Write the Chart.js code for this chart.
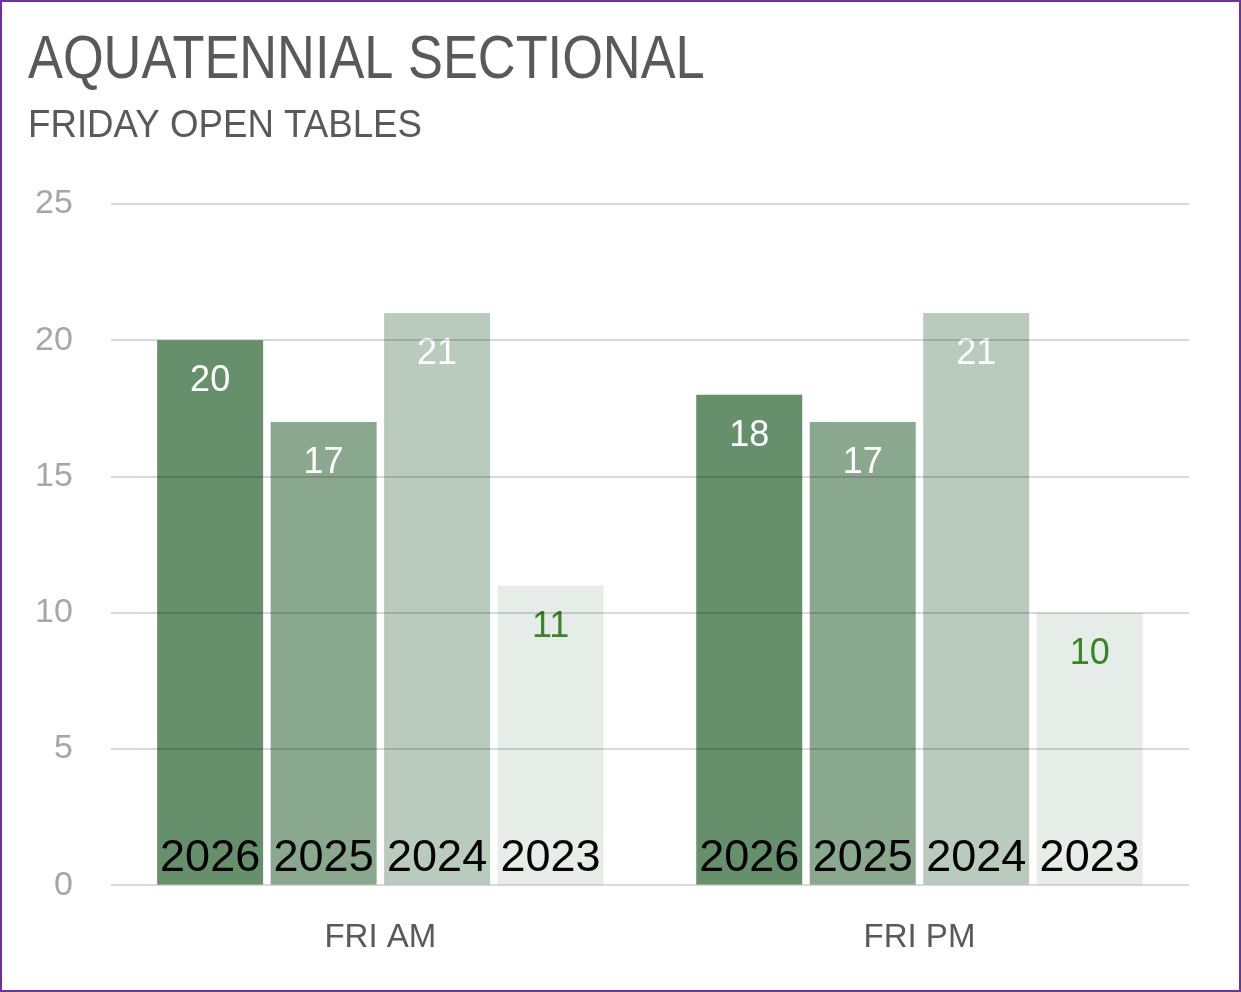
<!DOCTYPE html>
<html>
<head>
<meta charset="utf-8">
<script src="https://cdn.jsdelivr.net/npm/chart.js@4/dist/chart.umd.min.js"></script>
<style>
  html, body { margin: 0; padding: 0; background: #fff; }
  #wrap { width: 1241px; height: 992px; box-sizing: border-box; border: 2px solid #7030a0; background: #fff; }
  #wrap canvas { display: block; }
</style>
</head>
<body>
<div id="wrap"><canvas id="chart" width="1237" height="988"></canvas></div>
<script>
  const categories = ["FRI AM", "FRI PM"];
  const years = ["2026", "2025", "2024", "2023"];
  const values2026 = [20, 18];
  const values2025 = [17, 17];
  const values2024 = [21, 21];
  const values2023 = [11, 10];
  const yTicks = [0, 5, 10, 15, 20, 25];

  const titleText = 'AQUATENNIAL SECTIONAL';
  const subtitleText = 'FRIDAY OPEN TABLES';

  const barColors = ["#668f6b", "#8aa88d", "#b8cbbc", "#e6ece8"];
  const valueColors = ["#ffffff", "#ffffff", "#ffffff", "#3a8528"];
  const series = [values2026, values2025, values2024, values2023];

  // no narrow font installed, so squeeze the heading a bit by hand
  const headings = {
    id: 'headings',
    afterDraw(chart) {
      const ctx = chart.ctx;
      ctx.save();
      ctx.fillStyle = '#595959';
      ctx.textAlign = 'left';
      ctx.textBaseline = 'alphabetic';

      ctx.save();
      ctx.translate(26, 76);
      ctx.scale(0.858, 1);
      ctx.font = '61px "Liberation Sans", Arial, sans-serif';
      ctx.fillText(titleText, 0, 0);
      ctx.restore();

      ctx.save();
      ctx.translate(26, 135);
      ctx.scale(0.965, 1);
      ctx.font = '38px "Liberation Sans", Arial, sans-serif';
      ctx.fillText(subtitleText, 0, 0);
      ctx.restore();

      ctx.restore();
    }
  };

  // draws the value at the top and the year at the foot of each bar
  const barLabels = {
    id: 'barLabels',
    afterDatasetsDraw(chart) {
      const ctx = chart.ctx;
      ctx.save();
      ctx.textAlign = 'center';
      chart.data.datasets.forEach((ds, i) => {
        const meta = chart.getDatasetMeta(i);
        meta.data.forEach((bar, j) => {
          ctx.font = '36px "Liberation Sans", Arial, sans-serif';
          ctx.fillStyle = valueColors[i];
          ctx.textBaseline = 'middle';
          ctx.fillText(String(ds.data[j]), bar.x, bar.y + 41);

          ctx.font = '45px "Liberation Sans", Arial, sans-serif';
          ctx.fillStyle = '#000000';
          ctx.textBaseline = 'alphabetic';
          ctx.fillText(ds.label, bar.x, bar.base - 13);
        });
      });
      ctx.restore();
    }
  };

  const ctx = document.getElementById('chart').getContext('2d');

  const myChart = new Chart(ctx, {
    type: 'bar',
    data: {
      labels: categories,
      datasets: years.map((y, i) => ({
        label: y,
        data: series[i],
        backgroundColor: barColors[i],
        borderWidth: 0,
        categoryPercentage: 0.842,
        barPercentage: 0.934
      }))
    },
    options: {
      responsive: false,
      animation: false,
      layout: {
        padding: { left: -5, right: 50, top: 202, bottom: 7 }
      },
      plugins: {
        legend: { display: false },
        tooltip: { enabled: false },
        title: { display: false }
      },
      scales: {
        x: {
          grid: { display: false },
          border: { display: false },
          ticks: {
            color: '#595959',
            font: { family: '"Liberation Sans", Arial, sans-serif', size: 33 },
            padding: 25
          }
        },
        y: {
          min: 0,
          max: 25,
          afterBuildTicks: axis => { axis.ticks = yTicks.map(v => ({ value: v })); },
          grid: { color: 'rgba(0,0,0,0.15)', lineWidth: 2, drawTicks: false, z: 1 },
          border: { display: false },
          ticks: {
            color: '#a6a6a6',
            font: { family: '"Liberation Sans", Arial, sans-serif', size: 34 },
            padding: 38
          }
        }
      }
    },
    plugins: [barLabels, headings]
  });
</script>
</body>
</html>
